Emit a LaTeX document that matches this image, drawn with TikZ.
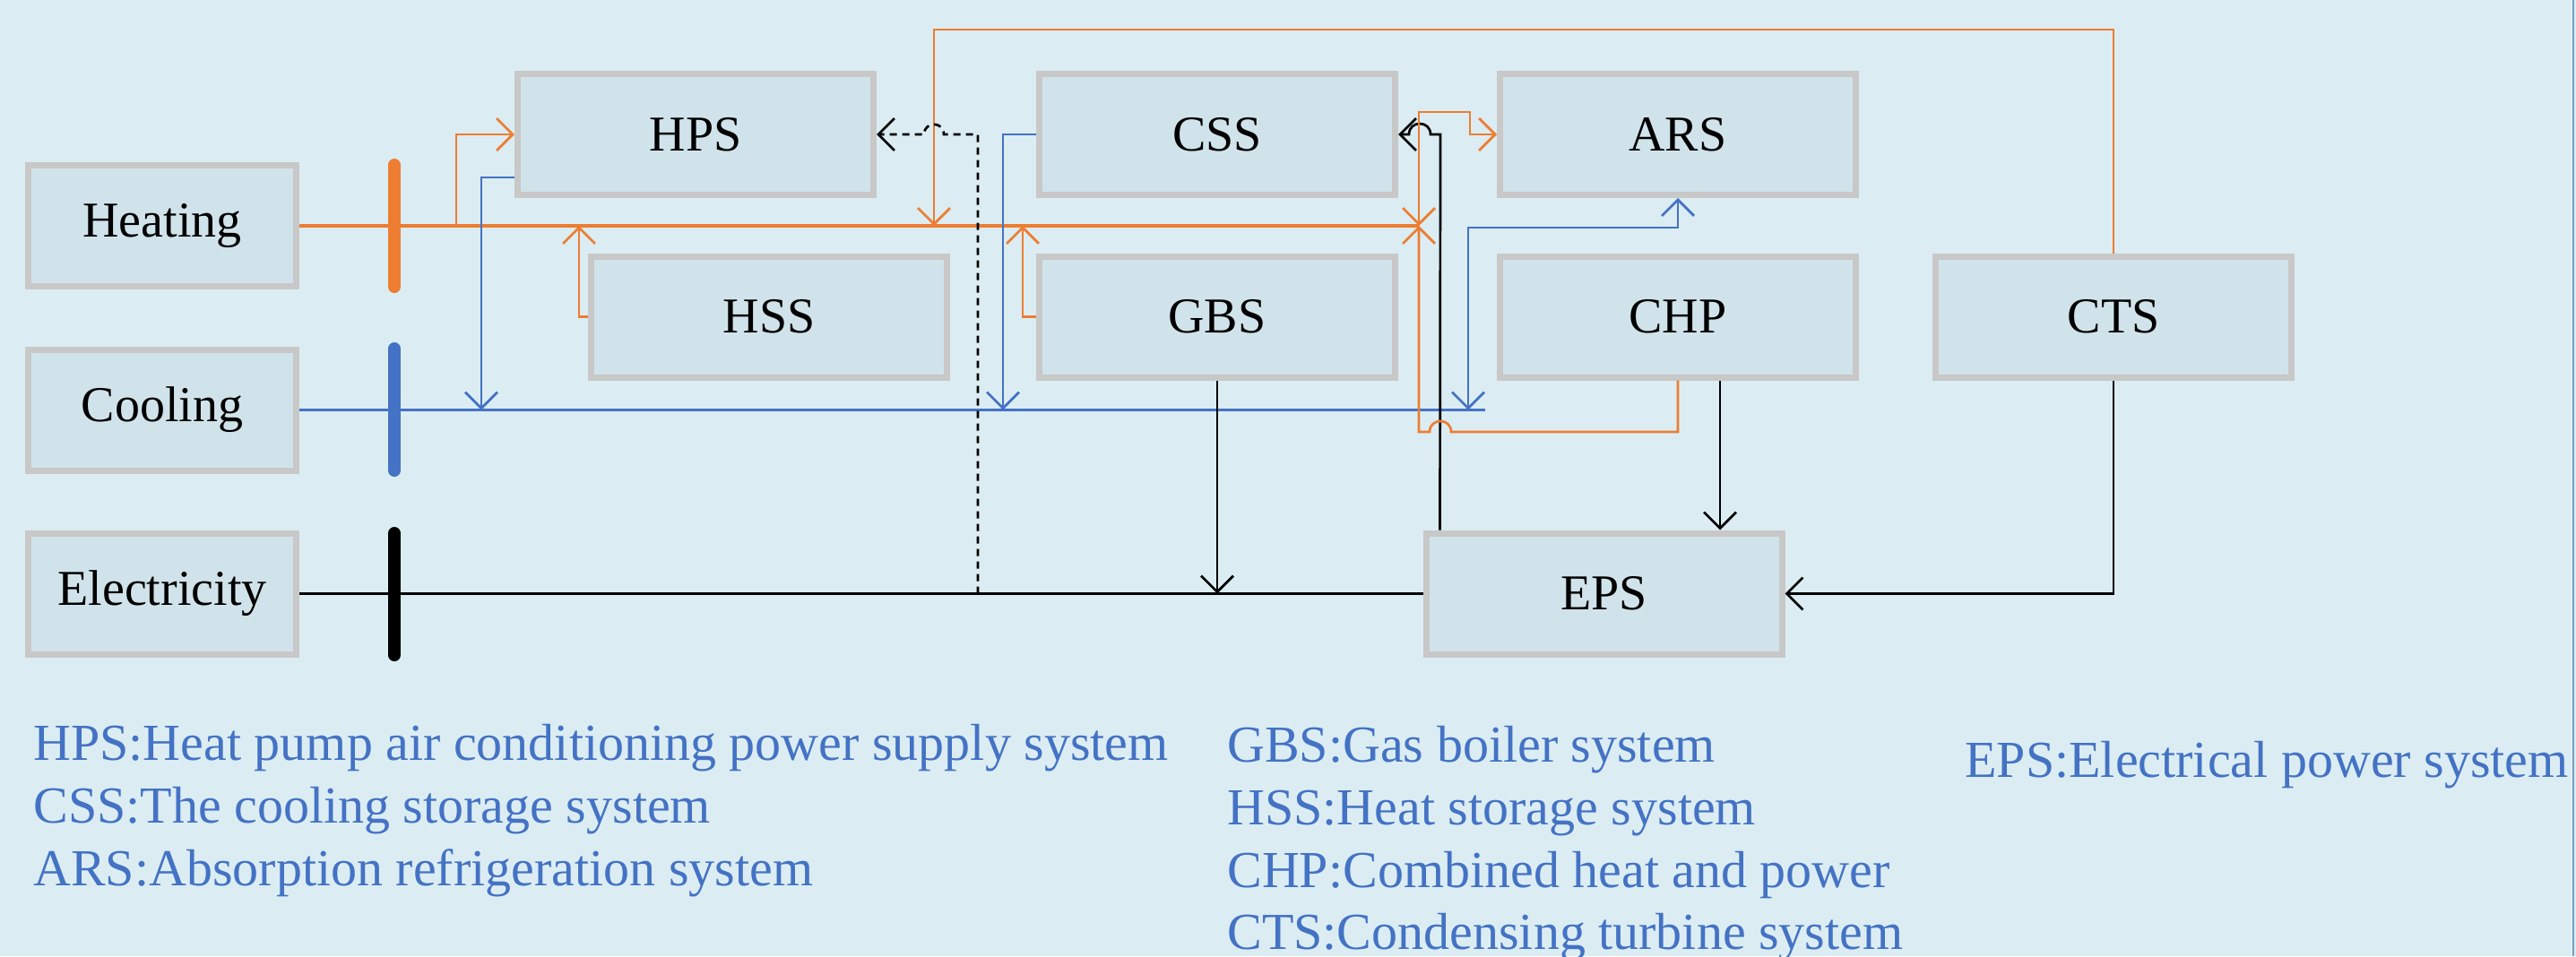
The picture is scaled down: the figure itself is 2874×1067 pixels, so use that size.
\documentclass[tikz,border=0pt]{standalone}
\usepackage{fontspec}
\setmainfont{Liberation Serif}
\usetikzlibrary{arrows.meta}
\definecolor{bg}{RGB}{219,237,243}
\definecolor{boxfill}{RGB}{209,227,234}
\definecolor{boxline}{RGB}{200,200,200}
\definecolor{heat}{RGB}{237,125,49}
\definecolor{cool}{RGB}{68,114,196}
\definecolor{legendc}{RGB}{68,114,196}
\definecolor{edgec}{RGB}{120,160,190}
\begin{document}
\begin{tikzpicture}[x=0.5pt,y=-0.5pt,
  box/.style={draw=boxline,fill=boxfill,line width=3.5pt,minimum width=198.5pt,minimum height=67.5pt,inner sep=0pt,font=\fontsize{28}{34}\selectfont},
  src/.style={box,minimum width=149.5pt},
  tip/.style={-{Straight Barb[length=9pt,width=18pt]}},
  tips/.style={{Straight Barb[length=9pt,width=18pt]}-{Straight Barb[length=9pt,width=18pt]}},
  conn/.style={line width=1.35pt},
  bus/.style={line width=1.65pt},
  barline/.style={line width=7pt,line cap=round},
  dotline/.style={dash pattern=on 4pt off 3pt},
  leg/.style={anchor=base west,inner sep=0pt,text=legendc,font=\fontsize{29}{35}\selectfont}
]
\useasboundingbox (0,0) rectangle (2874,1067);
\fill[bg] (0,0) rectangle (2874,1067);
\draw[edgec,line width=1pt] (2871,0) -- (2871,1067);

% nodes
\node[src] (heating) at (181,252) {Heating};
\node[src] (cooling) at (181,457.5) {Cooling};
\node[src] (elec) at (181,662.5) {Electricity};
\node[box] (HPS) at (776,150) {HPS};
\node[box] (CSS) at (1358,150) {CSS};
\node[box] (ARS) at (1872,150) {ARS};
\node[box] (HSS) at (858,353.5) {HSS};
\node[box] (GBS) at (1358,353.5) {GBS};
\node[box] (CHP) at (1872,353.5) {CHP};
\node[box] (CTS) at (2358,353.5) {CTS};
\node[box] (EPS) at (1789.5,662.5) {EPS};

% coordinates
\coordinate (hEnd) at (1583,252);
\coordinate (cEnd) at (1657,457.5);
\coordinate (hHPS) at (509,252);
\coordinate (cHPS) at (537,457.5);
\coordinate (hHSS) at (646,252);
\coordinate (cCSS) at (1119,457.5);
\coordinate (hGBS) at (1141,252);
\coordinate (hCTS) at (1042,252);
\coordinate (eHPS) at (1091,662.5);
\coordinate (eGBS) at (1358,662.5);
\coordinate (cARS) at (1638,457.5);
\coordinate (chpE) at ([xshift=23.5pt]CHP.south);
\coordinate (epsN) at ([xshift=9.5pt]EPS.north west);

% buses
\draw[bus,heat] (heating.east) -- (hEnd);
\draw[bus,cool] (cooling.east) -- (cEnd);
\draw[bus] (elec.east) -- (EPS.west);
\draw[barline,heat] (440,184) -- (440,320);
\draw[barline,cool] (440,389) -- (440,525);
\draw[barline] (440,595) -- (440,731);

% connectors
\draw[conn,heat,tip] (hHPS) |- (HPS.west);
\draw[conn,cool,tip] ([yshift=-24pt]HPS.west) -| (cHPS);
\draw[conn,heat,tip] (HSS.west) -| (hHSS);
\draw[conn,cool,tip] (CSS.west) -| (cCSS);
\draw[conn,heat,tip] (GBS.west) -| (hGBS);
\draw[conn,heat,tip] (CTS.north) |- (1042,33) -- (hCTS);
\draw[conn,dotline,tip] (eHPS) -- (1091,150) -- (1053,150)
  .. controls (1053,135) and (1031,135) .. (1031,150) -- (HPS.east);
\draw[conn,tip] (GBS.south) -- (eGBS);
\draw[conn,tip] (epsN) -- (1607,150) -- (1596,150)
  .. controls (1596,134) and (1572,134) .. (1572,150) -- (CSS.east);
\draw[conn,heat,tip] (CHP.south) -- (1872,482) -- (1619,482)
  .. controls (1619,466) and (1595,466) .. (1595,482) -- (1583,482) -- (hEnd);
\draw[conn,heat,tips] (hEnd) -- (1583,125) -- (1640,125) -- (1640,150) -- (ARS.west);
\draw[conn,cool,tips] (ARS.south) |- (1700,254) -| (cARS);
\draw[conn,tip] (chpE) -- (chpE |- EPS.north);
\draw[conn,tip] (CTS.south) |- (EPS.east);

% legend
\node[leg] (l1) at (37,848) {HPS:Heat pump air conditioning power supply system};
\node[leg] (l2) at (37,918) {CSS:The cooling storage system};
\node[leg] (l3) at (37,988) {ARS:Absorption refrigeration system};
\node[leg] (l4) at (1369,850) {GBS:Gas boiler system};
\node[leg] (l5) at (1369,920) {HSS:Heat storage system};
\node[leg] (l6) at (1369,990) {CHP:Combined heat and power};
\node[leg] (l7) at (1369,1059) {CTS:Condensing turbine system};
\node[leg] (l8) at (2192,867) {EPS:Electrical power system};
\end{tikzpicture}
\end{document}
